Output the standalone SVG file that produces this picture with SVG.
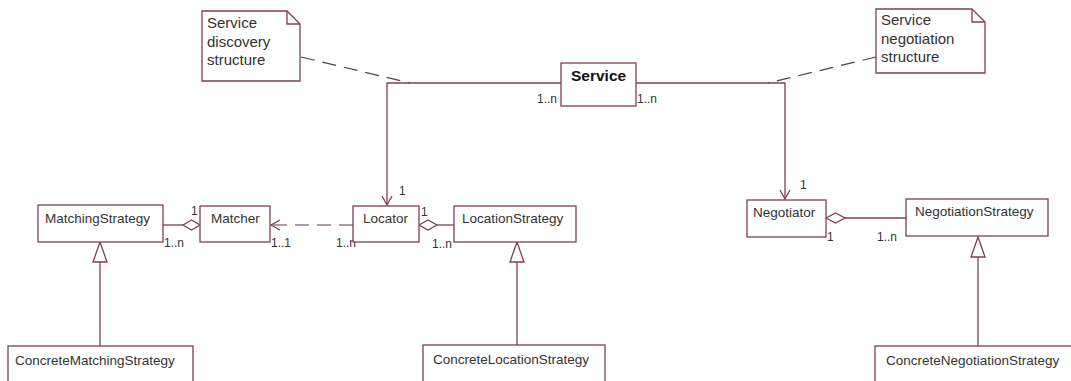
<svg xmlns="http://www.w3.org/2000/svg" width="1071" height="381" viewBox="0 0 1071 381">
<style>
.box{fill:#fff;stroke:#7d3f58;stroke-width:1.3}
.ln{fill:none;stroke:#7d3f58;stroke-width:1.3}
.dash{fill:none;stroke:#5a3a48;stroke-width:1.2;stroke-dasharray:14 8}
.t{font-family:"Liberation Sans",Arial,sans-serif;font-size:13.5px;fill:#333}
.b{font-family:"Liberation Sans",Arial,sans-serif;font-size:15.5px;font-weight:bold;fill:#111}
.n{font-family:"Liberation Sans",Arial,sans-serif;font-size:15px;fill:#333}
.m{font-family:"Liberation Sans",Arial,sans-serif;font-size:12px;fill:#333}
.dia{fill:#fff;stroke:#7d3f58;stroke-width:1.3}
</style>
<defs>
<marker id="open" markerWidth="12" markerHeight="12" refX="10" refY="6" orient="auto" markerUnits="userSpaceOnUse">
<path d="M1,1 L10,6 L1,11" fill="none" stroke="#7d3f58" stroke-width="1.3"/>
</marker>
</defs>
<rect width="1071" height="381" fill="#fff"/>

<g id="connectors">
<path class="ln" d="M561,83 H387 V205" marker-end="url(#open)"/>
<path class="ln" d="M636,83 H785 V199" marker-end="url(#open)"/>
<path class="dash" d="M301,57 L410,83"/>
<path class="dash" d="M876,57 L768,83"/>
<path class="dash" d="M353,225 H271" marker-end="url(#open)"/>
<path class="ln" d="M163,225 H183"/>
<path class="dia" d="M200,225 L191.5,220 L183,225 L191.5,230 Z"/>
<path class="ln" d="M437,225 H454"/>
<path class="dia" d="M419,225 L428,220 L437,225 L428,230 Z"/>
<path class="ln" d="M845,218 H906"/>
<path class="dia" d="M826,218 L835.5,213 L845,218 L835.5,223 Z"/>
<path class="ln" d="M100,262 V346"/>
<path class="box" d="M100,242 L107,262 L93,262 Z"/>
<path class="ln" d="M517,262 V345"/>
<path class="box" d="M517,242 L524,262 L510,262 Z"/>
<path class="ln" d="M978,257 V346"/>
<path class="box" d="M978,237 L985,257 L971,257 Z"/>
<text class="m" x="537" y="103">1..n</text>
<text class="m" x="637" y="103">1..n</text>
<text class="m" x="399" y="195">1</text>
<text class="m" x="800" y="189">1</text>
<text class="m" x="191" y="215">1</text>
<text class="m" x="164" y="247">1..n</text>
<text class="m" x="271" y="247">1..1</text>
<text class="m" x="336" y="247">1..n</text>
<text class="m" x="421" y="216">1</text>
<text class="m" x="432" y="248">1..n</text>
<text class="m" x="827" y="241">1</text>
<text class="m" x="877" y="241">1..n</text>
</g>

<g id="note-discovery">
<path class="box" d="M202,11 H287 L300,24 V81 H202 Z"/>
<path class="ln" d="M287,11 V24 H300"/>
<text class="n" x="207" y="28">Service</text>
<text class="n" x="207" y="46.5">discovery</text>
<text class="n" x="207" y="65">structure</text>
</g>

<g id="note-negotiation">
<path class="box" d="M876,9 H972 L985,22 V73 H876 Z"/>
<path class="ln" d="M972,9 V22 H985"/>
<text class="n" x="881" y="25">Service</text>
<text class="n" x="881" y="43.5">negotiation</text>
<text class="n" x="881" y="62">structure</text>
</g>

<g id="service">
<rect class="box" x="561" y="63" width="75" height="43"/>
<text class="b" x="571" y="81">Service</text>
</g>

<g id="matching-strategy">
<rect class="box" x="38" y="205" width="125" height="37"/>
<text class="t" x="45" y="223">MatchingStrategy</text>
</g>

<g id="matcher">
<rect class="box" x="200" y="206" width="70" height="36"/>
<text class="t" x="211" y="223">Matcher</text>
</g>

<g id="locator">
<rect class="box" x="353" y="206" width="66" height="36"/>
<text class="t" x="363" y="223">Locator</text>
</g>

<g id="location-strategy">
<rect class="box" x="454" y="206" width="122" height="36"/>
<text class="t" x="462" y="223">LocationStrategy</text>
</g>

<g id="negotiator">
<rect class="box" x="747" y="200" width="79" height="37"/>
<text class="t" x="753" y="217">Negotiator</text>
</g>

<g id="negotiation-strategy">
<rect class="box" x="906" y="199" width="142" height="37"/>
<text class="t" x="915" y="216">NegotiationStrategy</text>
</g>

<g id="concrete-matching-strategy">
<rect class="box" x="8" y="346" width="185" height="50"/>
<text class="t" x="15" y="365">ConcreteMatchingStrategy</text>
</g>

<g id="concrete-location-strategy">
<rect class="box" x="423" y="345" width="182" height="50"/>
<text class="t" x="433" y="364">ConcreteLocationStrategy</text>
</g>

<g id="concrete-negotiation-strategy">
<rect class="box" x="875" y="346" width="210" height="50"/>
<text class="t" x="886" y="365">ConcreteNegotiationStrategy</text>
</g>
</svg>
